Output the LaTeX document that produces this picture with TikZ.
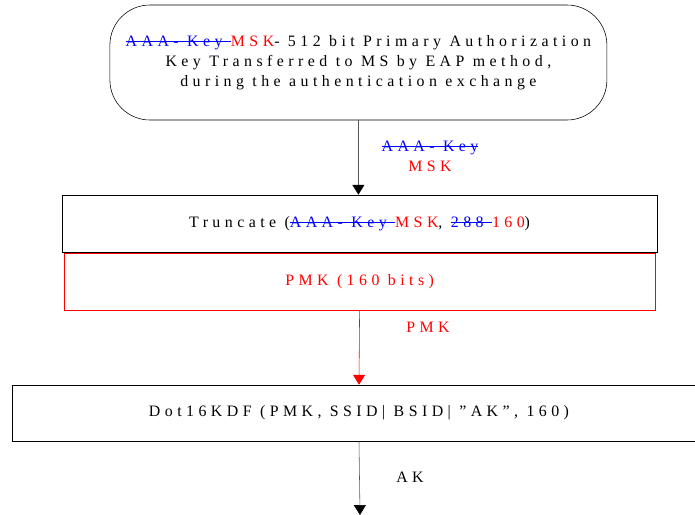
\documentclass[tikz,border=0pt]{standalone}
\usepackage{fontspec}
\setmainfont{Liberation Serif}[LetterSpace=28]
\usetikzlibrary{arrows.meta,positioning}

\newcommand{\oldtxt}[1]{{\color{blue}\setbox0\hbox{#1}\rlap{\rule[0.3em]{\wd0}{0.5pt}}\box0}}
\newcommand{\newtxt}[1]{{\color{red}#1}}

\begin{document}
\begin{tikzpicture}[x=1cm,y=-1cm,
  every node/.style={font=\fontsize{11.3}{14.2}\selectfont},
  keybox/.style={draw,minimum height=1.425cm,inner sep=0pt},
  link/.style={draw=gray!70!black,-{Triangle[black,width=8.5pt,length=7pt]}}]
  \useasboundingbox (0,0) rectangle (17.375,12.875);
  \clip (0,0) rectangle (17.375,12.875);
  % key from the EAP exchange
  \node[keybox,rounded corners=1cm,minimum width=12.425cm,minimum height=2.875cm,align=center] (msk) at (8.96,1.5625)
    {\oldtxt{AAA- Key }\newtxt{MSK}- 512 bit Primary Authorization\\
     Key Transferred to MS by EAP method,\\
     during the authentication exchange};
  \node[keybox,minimum width=14.875cm] (trunc) at (8.99,5.5875)
    {Truncate (\oldtxt{AAA- Key }\newtxt{MSK}, \oldtxt{288 }\newtxt{160})};
  \node[keybox,draw=red,text=red,minimum width=14.775cm] (pmk) at (8.99,7.0375)
    {PMK (160 bits)};
  \node[keybox,minimum width=17.35cm,minimum height=1.4cm] (kdf) at (8.975,10.325)
    {Dot16KDF (PMK, SSID| BSID| "AK", 160)};
  \coordinate (out) at (9,12.875);
  % arrows
  \draw[link] (msk.south) -- (msk.south |- trunc.north);
  \draw[link,draw=red,-{Triangle[red,width=8.5pt,length=7pt]}] (pmk.south) -- (kdf.north);
  \draw[link] (kdf.south) -- (out);
  \node[align=center] (lmsk) at (10.75,3.9) {\oldtxt{AAA- Key}\\\newtxt{MSK}};
  \node[text=red] (lpmk) at (10.7,8.175) {PMK};
  \node (lak) at (10.25,11.925) {AK};
\end{tikzpicture}
\end{document}
